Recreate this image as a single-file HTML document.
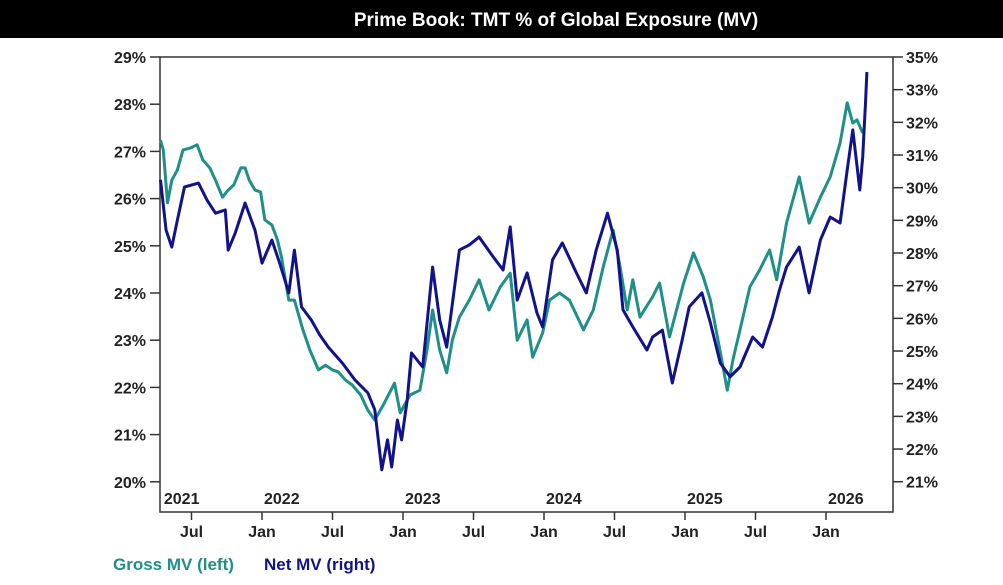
<!DOCTYPE html>
<html><head><meta charset="utf-8"><style>
body{margin:0;background:#fff;width:1003px;height:580px;overflow:hidden;font-family:"Liberation Sans",sans-serif}
svg text{font-family:"Liberation Sans",sans-serif;font-weight:bold}
</style></head><body>
<svg id="chart" width="1003" height="580" viewBox="0 0 1003 580">
<rect x="0" y="0" width="1003" height="38" fill="#000"/>
<text x="556" y="26" fill="#fff" font-size="19" text-anchor="middle">Prime Book: TMT % of Global Exposure (MV)</text>
<g id="axes"></g>
<g id="series"></g>
<text x="113" y="570" fill="#1f8f88" font-size="17">Gross MV (left)</text>
<text x="264" y="570" fill="#12128a" font-size="17">Net MV (right)</text>
</svg>
<script>
const leftTicks=[20,21,22,23,24,25,26,27,28,29];
const rightTicks=[21,22,23,24,25,26,27,28,29,30,31,32,33,34];
const rightTickLabels=["21%","22%","23%","24%","25%","26%","27%","28%","29%","30%","31%","32%","33%","35%"];
const yearLabels=["2021","2022","2023","2024","2025","2026"];
const yearPos=[2021.29,2022,2023,2024,2025,2026];
const monthTicks=[2021.5,2022,2022.5,2023,2023.5,2024,2024.5,2025,2025.5,2026];
const monthLabels=["Jul","Jan","Jul","Jan","Jul","Jan","Jul","Jan","Jul","Jan"];
const grossDates=[2021.28,2021.30,2021.33,2021.36,2021.40,2021.44,2021.49,2021.54,2021.58,2021.63,2021.67,2021.72,2021.76,2021.80,2021.85,2021.88,2021.91,2021.95,2021.99,2022.02,2022.07,2022.11,2022.14,2022.19,2022.23,2022.29,2022.34,2022.40,2022.45,2022.50,2022.54,2022.59,2022.64,2022.70,2022.75,2022.80,2022.86,2022.94,2022.98,2023.05,2023.12,2023.17,2023.21,2023.26,2023.31,2023.35,2023.40,2023.47,2023.54,2023.61,2023.69,2023.76,2023.81,2023.88,2023.92,2023.99,2024.04,2024.11,2024.18,2024.28,2024.35,2024.42,2024.49,2024.54,2024.59,2024.63,2024.68,2024.77,2024.82,2024.89,2024.99,2025.06,2025.13,2025.18,2025.23,2025.30,2025.34,2025.39,2025.46,2025.53,2025.60,2025.65,2025.72,2025.81,2025.88,2025.96,2026.03,2026.10,2026.15,2026.19,2026.22,2026.26];
const grossValues=[27.24,27.03,25.91,26.39,26.61,27.03,27.07,27.14,26.82,26.65,26.39,26.03,26.18,26.29,26.65,26.65,26.39,26.18,26.14,25.55,25.44,25.12,24.74,23.85,23.85,23.22,22.79,22.37,22.47,22.37,22.33,22.16,22.05,21.84,21.52,21.31,21.63,22.09,21.46,21.84,21.94,22.79,23.64,22.79,22.31,23.00,23.49,23.85,24.28,23.64,24.13,24.42,23.00,23.43,22.64,23.15,23.85,24.00,23.85,23.22,23.64,24.55,25.33,24.55,23.64,24.28,23.49,23.92,24.21,23.07,24.21,24.85,24.34,23.85,23.07,21.94,22.58,23.22,24.13,24.49,24.91,24.28,25.48,26.46,25.48,26.03,26.46,27.18,28.03,27.60,27.67,27.39];
const netDates=[2021.28,2021.32,2021.36,2021.40,2021.45,2021.55,2021.61,2021.67,2021.74,2021.76,2021.81,2021.88,2021.95,2022.00,2022.07,2022.13,2022.19,2022.23,2022.28,2022.35,2022.41,2022.47,2022.57,2022.66,2022.75,2022.80,2022.85,2022.89,2022.92,2022.96,2022.99,2023.03,2023.06,2023.14,2023.21,2023.26,2023.31,2023.40,2023.47,2023.54,2023.64,2023.71,2023.76,2023.81,2023.88,2023.95,2023.99,2024.06,2024.13,2024.23,2024.30,2024.37,2024.45,2024.52,2024.56,2024.63,2024.73,2024.77,2024.84,2024.91,2024.98,2025.03,2025.12,2025.18,2025.25,2025.32,2025.39,2025.48,2025.55,2025.62,2025.67,2025.72,2025.81,2025.88,2025.96,2026.03,2026.10,2026.15,2026.19,2026.24,2026.26,2026.28,2026.29];
const netValues=[30.24,28.70,28.18,29.01,30.02,30.14,29.62,29.22,29.32,28.09,28.61,29.53,28.70,27.69,28.40,27.63,26.78,28.09,26.35,25.95,25.49,25.12,24.63,24.11,23.72,23.20,21.36,22.28,21.45,22.89,22.28,23.50,24.94,24.51,27.57,25.95,25.12,28.09,28.25,28.49,27.88,27.48,28.80,26.56,27.39,26.16,25.74,27.79,28.31,27.39,26.78,28.09,29.22,28.09,26.26,25.74,25.03,25.43,25.64,24.02,25.34,26.35,26.78,25.86,24.63,24.21,24.51,25.43,25.12,26.04,26.87,27.57,28.18,26.78,28.40,29.10,28.92,30.54,31.77,29.93,30.94,32.59,33.54];

const NS="http://www.w3.org/2000/svg";
const X0=160,X1=893,Y0=57,Y1=512;
const xS=t=>262+(t-2022)*141;
const yL=v=>57+(29-v)*47.2;
const yR=v=>57+(34-v)*32.67;
function mk(tag,attrs,parent,txt){const e=document.createElementNS(NS,tag);for(const k in attrs)e.setAttribute(k,attrs[k]);if(txt!==undefined)e.textContent=txt;parent.appendChild(e);return e;}
const ax=document.getElementById('axes');
let fr=mk('rect',{x:X0,y:Y0,width:X1-X0,height:Y1-Y0,fill:'none',stroke:'#333','stroke-width':1.5},ax);


leftTicks.forEach(v=>{const y=yL(v);
 let l=mk('line',{x1:150,x2:X0,y1:y,y2:y,stroke:'#333','stroke-width':1.5},ax);
 
 
 let t=mk('text',{x:146,y:y+6,'text-anchor':'end','font-size':16,fill:'#222'},ax,v+'%');
 
 });
rightTicks.forEach((v,i)=>{const y=yR(v);
 let l=mk('line',{x1:X1,x2:903,y1:y,y2:y,stroke:'#333','stroke-width':1.5},ax);
 
 
 let t=mk('text',{x:906,y:y+6,'font-size':16,fill:'#222'},ax,rightTickLabels[i]);
 
 });
yearLabels.forEach((s,i)=>{let x=Math.max(xS(yearPos[i]),X0)+2;
 let t=mk('text',{x:x,y:504,'font-size':16,fill:'#222'},ax,s);
 
 });
monthTicks.forEach((m,i)=>{const x=xS(m);
 let l=mk('line',{x1:x,x2:x,y1:Y1,y2:520,stroke:'#333','stroke-width':1.5},ax);
 
 
 let t=mk('text',{x:x,y:537,'text-anchor':'middle','font-size':16,fill:'#222'},ax,monthLabels[i]);
 
 });
const sg=document.getElementById('series');
function path(dates,vals,ys){return dates.map((d,i)=>(i?'L':'M')+xS(d).toFixed(1)+','+ys(vals[i]).toFixed(1)).join('');}
let g=mk('path',{d:path(grossDates,grossValues,yL),fill:'none',stroke:'#1f8f88','stroke-width':3,'stroke-linejoin':'round'},sg);


let n=mk('path',{d:path(netDates,netValues,yR),fill:'none',stroke:'#12128a','stroke-width':3,'stroke-linejoin':'round'},sg);


</script>
</body></html>
